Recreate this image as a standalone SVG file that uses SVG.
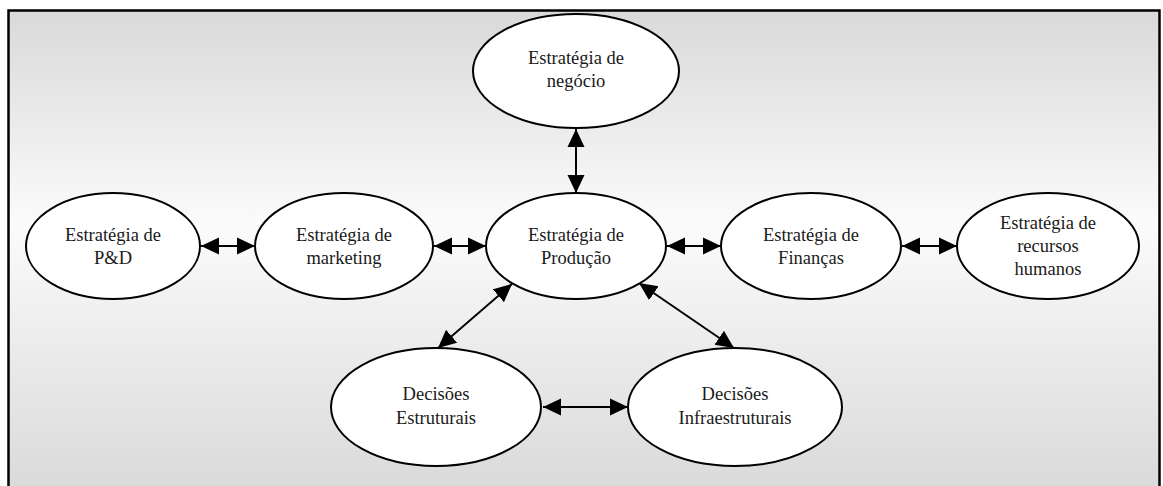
<svg xmlns="http://www.w3.org/2000/svg" width="1163" height="486" viewBox="0 0 1163 486">
  <defs>
    <linearGradient id="bg" gradientUnits="userSpaceOnUse" x1="0" y1="10" x2="0" y2="486">
      <stop offset="0" stop-color="#d9d9d9"/>
      <stop offset="0.45" stop-color="#fbfbfb"/>
      <stop offset="1" stop-color="#dadada"/>
    </linearGradient>
    <!-- solid triangular head, reused at both ends of every link -->
    <marker id="head" markerUnits="userSpaceOnUse" markerWidth="19" markerHeight="18" refX="18" refY="9" orient="auto-start-reverse" viewBox="0 0 19 18">
      <path d="M0,0.5 L18,9 L0,17.5 z" fill="#000"/>
    </marker>
    <style>
      .node ellipse { fill: #fff; stroke: #000; stroke-width: 2; }
      .node text { font-size: 18.5px; fill: #1a1a1a; text-anchor: middle; }
      .link { stroke: #000; stroke-width: 2; fill: none; marker-start: url(#head); marker-end: url(#head); }
    </style>
  </defs>

  <!-- frame -->
  <rect x="8.5" y="10.5" width="1151" height="490" fill="url(#bg)" stroke="#000" stroke-width="2.5"/>

  <!-- connectors -->
  <g id="connectors">
    <line class="link" x1="576" y1="129" x2="576" y2="193"/>
    <line class="link" x1="201" y1="246" x2="255" y2="246"/>
    <line class="link" x1="434" y1="246" x2="486" y2="246"/>
    <line class="link" x1="667" y1="246" x2="721" y2="246"/>
    <line class="link" x1="902" y1="246" x2="957" y2="246"/>
    <line class="link" x1="543" y1="407" x2="628" y2="407"/>
    <line class="link" x1="512" y1="284" x2="438" y2="348"/>
    <line class="link" x1="639" y1="283" x2="734" y2="348"/>
  </g>

  <g font-family="Liberation Serif, Tinos, Times New Roman, serif">
    <g id="negocio" class="node">
      <ellipse cx="576" cy="71" rx="103" ry="57"/>
      <text x="576" y="64">Estratégia de</text>
      <text x="576" y="87">negócio</text>
    </g>

    <g id="pd" class="node">
      <ellipse cx="113" cy="246" rx="87" ry="53"/>
      <text x="113" y="241">Estratégia de</text>
      <text x="113" y="264">P&amp;D</text>
    </g>

    <g id="marketing" class="node">
      <ellipse cx="344" cy="246" rx="89" ry="53"/>
      <text x="344" y="241">Estratégia de</text>
      <text x="344" y="264">marketing</text>
    </g>

    <g id="producao" class="node">
      <ellipse cx="576" cy="246" rx="90" ry="53"/>
      <text x="576" y="241">Estratégia de</text>
      <text x="576" y="264">Produção</text>
    </g>

    <g id="financas" class="node">
      <ellipse cx="811" cy="246" rx="90" ry="53"/>
      <text x="811" y="241">Estratégia de</text>
      <text x="811" y="264">Finanças</text>
    </g>

    <g id="rh" class="node">
      <ellipse cx="1048" cy="246" rx="91" ry="53"/>
      <text x="1048" y="229">Estratégia de</text>
      <text x="1048" y="252">recursos</text>
      <text x="1048" y="275">humanos</text>
    </g>

    <g id="estruturais" class="node">
      <ellipse cx="436" cy="407" rx="105" ry="59"/>
      <text x="436" y="400">Decisões</text>
      <text x="436" y="424">Estruturais</text>
    </g>

    <g id="infraestruturais" class="node">
      <ellipse cx="735" cy="407" rx="107" ry="59"/>
      <text x="735" y="400">Decisões</text>
      <text x="735" y="424">Infraestruturais</text>
    </g>
  </g>
</svg>
